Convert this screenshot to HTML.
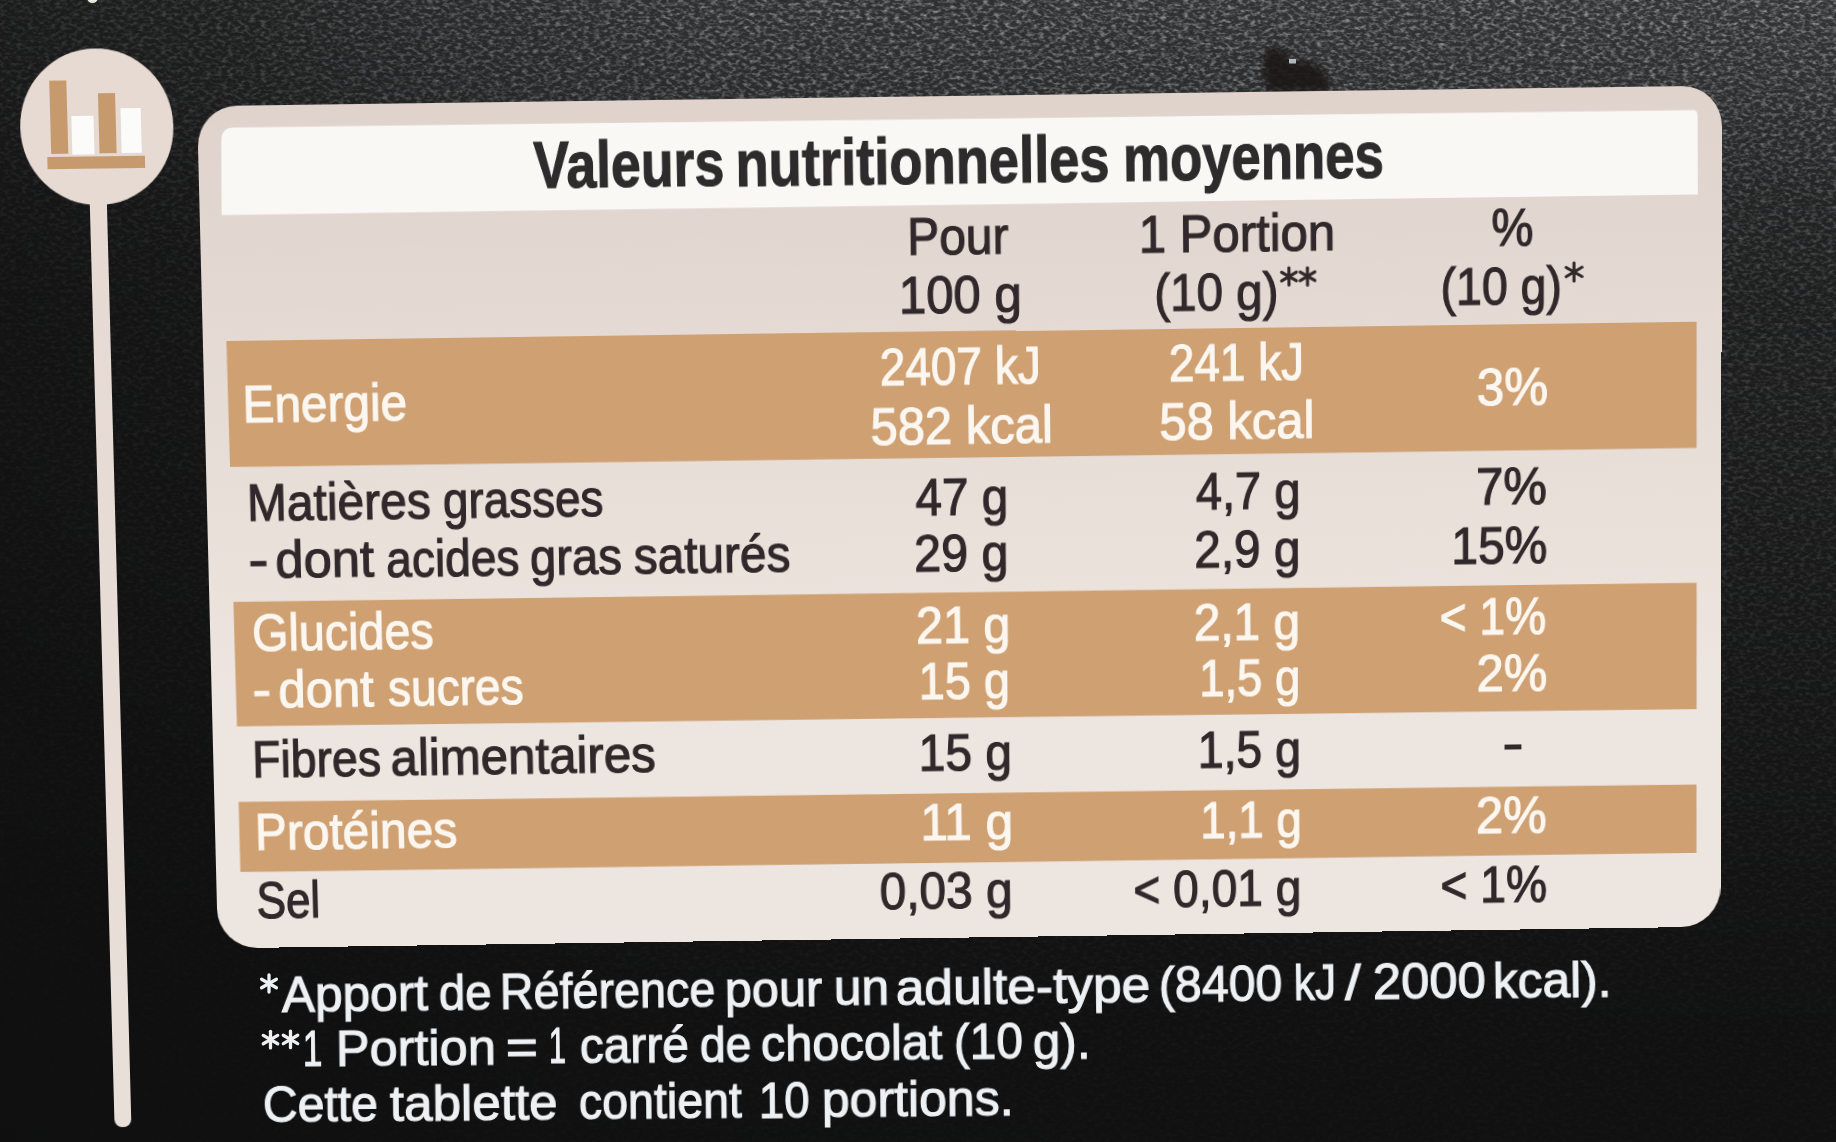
<!DOCTYPE html>
<html lang="fr"><head><meta charset="utf-8"><title>Valeurs nutritionnelles moyennes</title>
<style>
html,body{margin:0;padding:0;}
body{width:1836px;height:1142px;overflow:hidden;position:relative;background:#161616;font-family:"Liberation Sans",sans-serif;}
#bg{position:absolute;left:0;top:0;width:1836px;height:1142px;background:#101010;}
#glare{position:absolute;left:0;top:0;width:1836px;height:1142px;
 background:linear-gradient(90deg, rgba(225,232,238,0.05) 0px, rgba(225,232,238,0.07) 200px, rgba(225,232,238,0.13) 460px, rgba(225,232,238,0.165) 700px, rgba(225,232,238,0.19) 1836px);
 -webkit-mask-image:linear-gradient(180deg, rgba(0,0,0,1.00) 0px, rgba(0,0,0,0.80) 100px, rgba(0,0,0,0.50) 200px, rgba(0,0,0,0.36) 300px, rgba(0,0,0,0.27) 500px, rgba(0,0,0,0.17) 700px, rgba(0,0,0,0.09) 900px, rgba(0,0,0,0.06) 1000px, rgba(0,0,0,0.04) 1142px);
 mask-image:linear-gradient(180deg, rgba(0,0,0,1.00) 0px, rgba(0,0,0,0.80) 100px, rgba(0,0,0,0.50) 200px, rgba(0,0,0,0.36) 300px, rgba(0,0,0,0.27) 500px, rgba(0,0,0,0.17) 700px, rgba(0,0,0,0.09) 900px, rgba(0,0,0,0.06) 1000px, rgba(0,0,0,0.04) 1142px);}
#grain{position:absolute;left:0;top:0;width:1836px;height:1142px;}
#stage{position:absolute;left:0;top:0;width:10px;height:10px;transform-origin:0 0;transform:matrix3d(1.00932712,-0.0135036788,0,1.19887084e-06,0.0289440074,1.02154593,0,1.78648664e-05,0,0,1,0,-12.3298316,10.0884327,0,1);}
#stage div,#stage span,#stage svg{position:absolute;}
.tb{-webkit-text-stroke:1.1px currentColor !important;}
.t{will-change:transform;-webkit-text-stroke:1.15px currentColor;white-space:pre;transform-origin:0 50%;display:block;}
#panel{left:205px;top:97px;width:1517px;height:840px;border-radius:40px;background:linear-gradient(180deg,#dfd3cc 0%,#ede5df 70%);}
.band{left:228px;width:1469.6px;background:#cea072;}
#title{left:228px;top:119px;width:1469.6px;height:85px;background:#f9f8f5;border-radius:14px 4px 0 0;}
#circle{left:28.7px;top:39.3px;width:152.2px;height:153.5px;border-radius:50%;background:#e6dad3;}
#stem{left:95.6px;top:184.8px;width:17.8px;height:932.5px;border-radius:0 0 8px 8px;background:linear-gradient(180deg,#e6dad3,#e9dfd9);}
.fn{will-change:transform;-webkit-text-stroke:1.1px currentColor;position:absolute;white-space:pre;color:#eef1f4;transform-origin:0 0;display:block;}
</style></head><body>
<div id="bg"></div><div id="glare"></div>
<svg id="grain" width="1836" height="1142">
 <defs>
  <filter id="nz" x="0" y="0" width="100%" height="100%">
   <feTurbulence type="fractalNoise" baseFrequency="0.18 0.3" numOctaves="2" seed="7" result="n"/>
   <feColorMatrix type="matrix" values="0 0 0 0 0.66  0 0 0 0 0.68  0 0 0 0 0.70  1.9 0 0 0 -0.80"/>
  </filter>
  <filter id="nz2" x="0" y="0" width="100%" height="100%">
   <feTurbulence type="fractalNoise" baseFrequency="0.2 0.32" numOctaves="2" seed="23"/>
   <feColorMatrix type="matrix" values="0 0 0 0 0.02  0 0 0 0 0.02  0 0 0 0 0.02  1.9 0 0 0 -0.85"/>
  </filter>
  <filter id="bl" x="-20%" y="-20%" width="140%" height="140%"><feGaussianBlur stdDeviation="3"/></filter>
  <linearGradient id="fade" x1="0" y1="0" x2="0" y2="1">
   <stop offset="0.000" stop-color="#fff" stop-opacity="1.00"/>
   <stop offset="0.088" stop-color="#fff" stop-opacity="0.80"/>
   <stop offset="0.175" stop-color="#fff" stop-opacity="0.50"/>
   <stop offset="0.263" stop-color="#fff" stop-opacity="0.36"/>
   <stop offset="0.438" stop-color="#fff" stop-opacity="0.27"/>
   <stop offset="0.613" stop-color="#fff" stop-opacity="0.17"/>
   <stop offset="0.788" stop-color="#fff" stop-opacity="0.09"/>
   <stop offset="0.876" stop-color="#fff" stop-opacity="0.06"/>
   <stop offset="1.000" stop-color="#fff" stop-opacity="0.04"/>
  </linearGradient>
  <linearGradient id="fadeh" x1="0" y1="0" x2="1" y2="0">
   <stop offset="0" stop-color="#000" stop-opacity="0.75"/><stop offset="0.11" stop-color="#000" stop-opacity="0.62"/>
   <stop offset="0.25" stop-color="#000" stop-opacity="0.3"/><stop offset="0.4" stop-color="#000" stop-opacity="0.08"/><stop offset="0.6" stop-color="#000" stop-opacity="0"/>
  </linearGradient>
  <mask id="mk"><rect width="1836" height="1142" fill="url(#fade)"/><rect width="1836" height="1142" fill="url(#fadeh)"/></mask>
 </defs>
 <rect width="1836" height="1142" filter="url(#nz)" mask="url(#mk)" opacity="0.75"/>
 <rect width="1836" height="1142" filter="url(#nz2)" mask="url(#mk)" opacity="0.8"/>
 <path d="M1264 52 L1274 47 L1284 50 L1290 60 L1308 61 L1320 68 L1329 80 L1330 91 L1268 92 L1263 72 Z" fill="#1a1617" opacity="0.88" filter="url(#bl)"/>
 <rect x="1289" y="59" width="7" height="4.5" fill="#c9d3d8" opacity="0.85"/>
 <circle cx="92.5" cy="-2.5" r="5.5" fill="#e9e6e0"/>
</svg>
<div id="stage">
<div id="stem"></div>
<div id="circle"></div>
<div id="panel"></div>

<svg style="left:0;top:0;overflow:visible" width="10" height="10"><path d="M241.3,118.4 L1692.7,120.7 Q1697.7,120.7 1697.7,125.7 L1698.0,204.0 L226.8,204.4 L228.3,131.3 Q228.3,118.3 241.3,118.4 Z" fill="#f9f8f5"/><polygon points="228.5,329.0 1697.0,329.3 1697.2,455.6 229.0,454.1" fill="#cea072"/><polygon points="229.1,588.8 1697.4,590.2 1697.5,716.9 229.6,713.5" fill="#cea072"/><polygon points="229.4,789.5 1697.5,792.9 1697.6,862.1 229.5,860.1" fill="#cea072"/></svg>
<div style="left:58.8px;top:69.8px;width:16.9px;height:72.5px;background:#c79a6e"></div>
<div style="left:79.7px;top:104.5px;width:22.8px;height:38.2px;background:#fbfbfa"></div>
<div style="left:106.5px;top:83.3px;width:17.9px;height:58.6px;background:#c79a6e"></div>
<div style="left:128.5px;top:97.7px;width:20.7px;height:44.5px;background:#fbfbfa"></div>
<div style="left:54.7px;top:144.9px;width:97.6px;height:12.1px;background:#c79a6e"></div>
<span class="t " style="left:908.6px;top:208.9px;font-size:52.0px;line-height:52.0px;color:#30282a;transform:scaleX(0.9206)">Pour</span>
<span class="t " style="left:899.8px;top:266.8px;font-size:52.0px;line-height:52.0px;color:#30282a;transform:scaleX(0.9422)">100 g</span>
<span class="t " style="left:1139.7px;top:209.9px;font-size:52.0px;line-height:52.0px;color:#30282a;transform:scaleX(0.9414)">1 Portion</span>
<span class="t " style="left:1155.0px;top:267.6px;font-size:52.0px;line-height:52.0px;color:#30282a;transform:scaleX(0.9137)">(10 g)</span>
<span class="t " style="left:1492.1px;top:208.1px;font-size:52.0px;line-height:52.0px;color:#30282a;transform:scaleX(0.9065)">%</span>
<span class="t " style="left:1441.3px;top:266.2px;font-size:52.0px;line-height:52.0px;color:#30282a;transform:scaleX(0.8934)">(10 g)</span>
<span class="t " style="left:242.7px;top:365.7px;font-size:52.0px;line-height:52.0px;color:#fbf7f0;transform:scaleX(0.9170)">Energie</span>
<span class="t " style="left:879.9px;top:338.4px;font-size:52.0px;line-height:52.0px;color:#fbf7f0;transform:scaleX(0.8828)">2407 kJ</span>
<span class="t " style="left:870.0px;top:396.7px;font-size:52.0px;line-height:52.0px;color:#fbf7f0;transform:scaleX(0.9411)">582 kcal</span>
<span class="t " style="left:1168.6px;top:338.1px;font-size:52.0px;line-height:52.0px;color:#fbf7f0;transform:scaleX(0.8821)">241 kJ</span>
<span class="t " style="left:1158.9px;top:396.4px;font-size:52.0px;line-height:52.0px;color:#fbf7f0;transform:scaleX(0.9422)">58 kcal</span>
<span class="t " style="left:1476.6px;top:366.2px;font-size:52.0px;line-height:52.0px;color:#fbf7f0;transform:scaleX(0.9490)">3%</span>
<span class="t " style="left:913.8px;top:467.7px;font-size:52.0px;line-height:52.0px;color:#30282a;transform:scaleX(0.9190)">47 g</span>
<span class="t " style="left:911.6px;top:524.0px;font-size:52.0px;line-height:52.0px;color:#30282a;transform:scaleX(0.9350)">29 g</span>
<span class="t " style="left:1194.7px;top:466.4px;font-size:52.0px;line-height:52.0px;color:#30282a;transform:scaleX(0.9074)">4,7 g</span>
<span class="t " style="left:1192.8px;top:524.1px;font-size:52.0px;line-height:52.0px;color:#30282a;transform:scaleX(0.9213)">2,9 g</span>
<span class="t " style="left:1476.1px;top:465.3px;font-size:52.0px;line-height:52.0px;color:#30282a;transform:scaleX(0.9435)">7%</span>
<span class="t " style="left:1450.5px;top:523.6px;font-size:52.0px;line-height:52.0px;color:#30282a;transform:scaleX(0.9269)">15%</span>
<span class="t " style="left:246.5px;top:594.2px;font-size:52.0px;line-height:52.0px;color:#fbf7f0;transform:scaleX(0.8996)">Glucides</span>
<span class="t " style="left:912.7px;top:595.7px;font-size:52.0px;line-height:52.0px;color:#fbf7f0;transform:scaleX(0.9362)">21 g</span>
<span class="t " style="left:915.1px;top:652.3px;font-size:52.0px;line-height:52.0px;color:#fbf7f0;transform:scaleX(0.9062)">15 g</span>
<span class="t " style="left:1192.3px;top:596.9px;font-size:52.0px;line-height:52.0px;color:#fbf7f0;transform:scaleX(0.9224)">2,1 g</span>
<span class="t " style="left:1196.8px;top:653.4px;font-size:52.0px;line-height:52.0px;color:#fbf7f0;transform:scaleX(0.8788)">1,5 g</span>
<span class="t " style="left:1439.4px;top:595.1px;font-size:52.0px;line-height:52.0px;color:#fbf7f0;transform:scaleX(0.8935)">&lt; 1%</span>
<span class="t " style="left:1475.6px;top:652.0px;font-size:52.0px;line-height:52.0px;color:#fbf7f0;transform:scaleX(0.9466)">2%</span>
<span class="t " style="left:914.1px;top:724.3px;font-size:52.0px;line-height:52.0px;color:#30282a;transform:scaleX(0.9288)">15 g</span>
<span class="t " style="left:1195.4px;top:725.1px;font-size:52.0px;line-height:52.0px;color:#30282a;transform:scaleX(0.8984)">1,5 g</span>
<span class="t " style="left:244.5px;top:793.8px;font-size:52.0px;line-height:52.0px;color:#fbf7f0;transform:scaleX(0.9262)">Protéines</span>
<span class="t " style="left:915.1px;top:794.2px;font-size:52.0px;line-height:52.0px;color:#fbf7f0;transform:scaleX(0.9579)">11 g</span>
<span class="t " style="left:1196.6px;top:795.5px;font-size:52.0px;line-height:52.0px;color:#fbf7f0;transform:scaleX(0.8847)">1,1 g</span>
<span class="t " style="left:1475.3px;top:795.2px;font-size:52.0px;line-height:52.0px;color:#fbf7f0;transform:scaleX(0.9490)">2%</span>
<span class="t " style="left:245.3px;top:863.1px;font-size:52.0px;line-height:52.0px;color:#30282a;transform:scaleX(0.8533)">Sel</span>
<span class="t " style="left:873.4px;top:863.1px;font-size:52.0px;line-height:52.0px;color:#30282a;transform:scaleX(0.9271)">0,03 g</span>
<span class="t " style="left:1129.1px;top:865.4px;font-size:52.0px;line-height:52.0px;color:#30282a;transform:scaleX(0.8952)">&lt; 0,01 g</span>
<span class="t " style="left:1438.6px;top:865.4px;font-size:52.0px;line-height:52.0px;color:#30282a;transform:scaleX(0.8978)">&lt; 1%</span>
<span class="t tb" style="left:537.9px;top:128.3px;font-size:64.0px;line-height:64.0px;color:#2e2b2d;font-weight:bold;transform:scaleX(0.8331)">Valeurs</span>
<span class="t tb" style="left:739.4px;top:128.5px;font-size:64.0px;line-height:64.0px;color:#2e2b2d;font-weight:bold;transform:scaleX(0.8449)">nutritionnelles</span>
<span class="t tb" style="left:1125.3px;top:128.8px;font-size:64.0px;line-height:64.0px;color:#2e2b2d;font-weight:bold;transform:scaleX(0.8207)">moyennes</span>
<span class="t " style="left:244.8px;top:463.9px;font-size:52.0px;line-height:52.0px;color:#30282a;transform:scaleX(0.9217)">Matières</span>
<span class="t " style="left:441.4px;top:464.1px;font-size:52.0px;line-height:52.0px;color:#30282a;transform:scaleX(0.8818)">grasses</span>
<span class="t " style="left:244.5px;top:521.3px;font-size:52.0px;line-height:52.0px;color:#30282a;transform:scaleX(1.1633)">-</span>
<span class="t " style="left:271.5px;top:521.4px;font-size:52.0px;line-height:52.0px;color:#30282a;transform:scaleX(0.9772)">dont</span>
<span class="t " style="left:382.9px;top:521.5px;font-size:52.0px;line-height:52.0px;color:#30282a;transform:scaleX(0.8877)">acides</span>
<span class="t " style="left:526.9px;top:521.7px;font-size:52.0px;line-height:52.0px;color:#30282a;transform:scaleX(0.9090)">gras</span>
<span class="t " style="left:630.5px;top:521.9px;font-size:52.0px;line-height:52.0px;color:#30282a;transform:scaleX(0.9210)">saturés</span>
<span class="t " style="left:245.9px;top:651.0px;font-size:52.0px;line-height:52.0px;color:#fbf7f0;transform:scaleX(1.0793)">-</span>
<span class="t " style="left:271.8px;top:651.1px;font-size:52.0px;line-height:52.0px;color:#fbf7f0;transform:scaleX(0.9459)">dont</span>
<span class="t " style="left:382.2px;top:651.3px;font-size:52.0px;line-height:52.0px;color:#fbf7f0;transform:scaleX(0.8877)">sucres</span>
<span class="t " style="left:244.3px;top:720.8px;font-size:52.0px;line-height:52.0px;color:#30282a;transform:scaleX(0.8956)">Fibres</span>
<span class="t " style="left:383.4px;top:721.1px;font-size:52.0px;line-height:52.0px;color:#30282a;transform:scaleX(0.9510)">alimentaires</span>
<div style="left:1503.5px;top:750.4px;width:17.1px;height:5.0px;background:#30282a"></div>
<svg style="left:0;top:0;overflow:visible" width="10" height="10"><g stroke="#30282a" stroke-width="3.1" stroke-linecap="round"><line x1="1289.6" y1="271.1" x2="1289.6" y2="288.1"/><line x1="1282.3" y1="275.4" x2="1297.0" y2="283.9"/><line x1="1297.0" y1="275.4" x2="1282.3" y2="283.9"/></g><g stroke="#30282a" stroke-width="3.1" stroke-linecap="round"><line x1="1308.1" y1="271.2" x2="1308.1" y2="288.2"/><line x1="1300.8" y1="275.4" x2="1315.5" y2="283.9"/><line x1="1315.5" y1="275.4" x2="1300.8" y2="283.9"/></g><g stroke="#30282a" stroke-width="3.1" stroke-linecap="round"><line x1="1574.4" y1="270.0" x2="1574.4" y2="288.0"/><line x1="1566.6" y1="274.5" x2="1582.2" y2="283.5"/><line x1="1582.2" y1="274.5" x2="1566.6" y2="283.5"/></g></svg>
</div>
<span class="fn" style="left:282.4px;top:969.7px;font-size:50.5px;line-height:50.5px;transform-origin:0 42.7px;transform:rotate(-0.657deg) scaleX(0.9834)">Apport</span>
<span class="fn" style="left:438.7px;top:967.8px;font-size:50.5px;line-height:50.5px;transform-origin:0 42.7px;transform:rotate(-0.657deg) scaleX(0.9428)">de</span>
<span class="fn" style="left:499.8px;top:967.1px;font-size:50.5px;line-height:50.5px;transform-origin:0 42.7px;transform:rotate(-0.657deg) scaleX(0.9249)">Référence</span>
<span class="fn" style="left:725.3px;top:964.5px;font-size:50.5px;line-height:50.5px;transform-origin:0 42.7px;transform:rotate(-0.657deg) scaleX(0.9633)">pour</span>
<span class="fn" style="left:833.9px;top:963.3px;font-size:50.5px;line-height:50.5px;transform-origin:0 42.7px;transform:rotate(-0.657deg) scaleX(0.9861)">un</span>
<span class="fn" style="left:896.0px;top:962.6px;font-size:50.5px;line-height:50.5px;transform-origin:0 42.7px;transform:rotate(-0.657deg) scaleX(1.0179)">adulte-type</span>
<span class="fn" style="left:1159.1px;top:959.6px;font-size:50.5px;line-height:50.5px;transform-origin:0 42.7px;transform:rotate(-0.657deg) scaleX(0.9572)">(8400</span>
<span class="fn" style="left:1294.3px;top:958.0px;font-size:50.5px;line-height:50.5px;transform-origin:0 42.7px;transform:rotate(-0.657deg) scaleX(0.8359)">kJ</span>
<span class="fn" style="left:1345.4px;top:957.5px;font-size:50.5px;line-height:50.5px;transform-origin:0 42.7px;transform:rotate(-0.657deg) scaleX(1.1387)">/</span>
<span class="fn" style="left:1373.1px;top:957.1px;font-size:50.5px;line-height:50.5px;transform-origin:0 42.7px;transform:rotate(-0.657deg) scaleX(1.0068)">2000</span>
<span class="fn" style="left:1493.3px;top:955.7px;font-size:50.5px;line-height:50.5px;transform-origin:0 42.7px;transform:rotate(-0.657deg) scaleX(0.9848)">kcal).</span>
<span class="fn" style="left:302.7px;top:1023.9px;font-size:50.5px;line-height:50.5px;transform-origin:0 42.7px;transform:rotate(-0.565deg) scaleX(0.6920)">1</span>
<span class="fn" style="left:335.6px;top:1023.5px;font-size:50.5px;line-height:50.5px;transform-origin:0 42.7px;transform:rotate(-0.565deg) scaleX(1.0000)">Portion</span>
<span class="fn" style="left:506.4px;top:1021.8px;font-size:50.5px;line-height:50.5px;transform-origin:0 42.7px;transform:rotate(-0.565deg) scaleX(1.0902)">=</span>
<span class="fn" style="left:548.9px;top:1021.4px;font-size:50.5px;line-height:50.5px;transform-origin:0 42.7px;transform:rotate(-0.565deg) scaleX(0.6055)">1</span>
<span class="fn" style="left:579.8px;top:1021.1px;font-size:50.5px;line-height:50.5px;transform-origin:0 42.7px;transform:rotate(-0.565deg) scaleX(0.9476)">carré</span>
<span class="fn" style="left:699.9px;top:1019.9px;font-size:50.5px;line-height:50.5px;transform-origin:0 42.7px;transform:rotate(-0.565deg) scaleX(0.9196)">de</span>
<span class="fn" style="left:760.8px;top:1019.3px;font-size:50.5px;line-height:50.5px;transform-origin:0 42.7px;transform:rotate(-0.565deg) scaleX(0.9656)">chocolat</span>
<span class="fn" style="left:953.5px;top:1017.4px;font-size:50.5px;line-height:50.5px;transform-origin:0 42.7px;transform:rotate(-0.565deg) scaleX(0.9461)">(10</span>
<span class="fn" style="left:1033.0px;top:1016.7px;font-size:50.5px;line-height:50.5px;transform-origin:0 42.7px;transform:rotate(-0.565deg) scaleX(0.9796)">g).</span>
<span class="fn" style="left:262.8px;top:1080.2px;font-size:50.5px;line-height:50.5px;transform-origin:0 42.7px;transform:rotate(-0.531deg) scaleX(0.9543)">Cette</span>
<span class="fn" style="left:389.5px;top:1079.1px;font-size:50.5px;line-height:50.5px;transform-origin:0 42.7px;transform:rotate(-0.531deg) scaleX(1.0129)">tablette</span>
<span class="fn" style="left:579.0px;top:1077.3px;font-size:50.5px;line-height:50.5px;transform-origin:0 42.7px;transform:rotate(-0.531deg) scaleX(0.9222)">contient</span>
<span class="fn" style="left:759.4px;top:1075.6px;font-size:50.5px;line-height:50.5px;transform-origin:0 42.7px;transform:rotate(-0.531deg) scaleX(0.9050)">10</span>
<span class="fn" style="left:821.7px;top:1075.1px;font-size:50.5px;line-height:50.5px;transform-origin:0 42.7px;transform:rotate(-0.531deg) scaleX(0.9896)">portions.</span>
<svg style="position:absolute;left:0;top:0;overflow:visible" width="1836" height="1142"><g stroke="#eef1f4" stroke-width="3.3" stroke-linecap="round"><line x1="269.0" y1="975.0" x2="269.0" y2="992.0"/><line x1="261.6" y1="979.2" x2="276.4" y2="987.8"/><line x1="276.4" y1="979.2" x2="261.6" y2="987.8"/></g><g stroke="#eef1f4" stroke-width="3.3" stroke-linecap="round"><line x1="270.5" y1="1031.3" x2="270.5" y2="1047.9"/><line x1="263.3" y1="1035.4" x2="277.7" y2="1043.8"/><line x1="277.7" y1="1035.4" x2="263.3" y2="1043.8"/></g><g stroke="#eef1f4" stroke-width="3.3" stroke-linecap="round"><line x1="290.5" y1="1031.1" x2="290.5" y2="1047.7"/><line x1="283.3" y1="1035.2" x2="297.7" y2="1043.6"/><line x1="297.7" y1="1035.2" x2="283.3" y2="1043.6"/></g></svg>
</body></html>
